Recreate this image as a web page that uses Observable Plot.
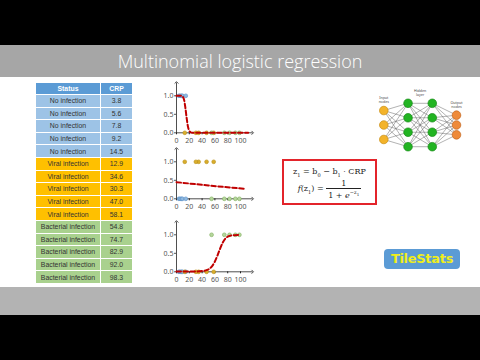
<!DOCTYPE html>
<html><head><meta charset="utf-8">
<script src="https://cdn.jsdelivr.net/npm/d3@7"></script>
<script src="https://cdn.jsdelivr.net/npm/@observablehq/plot@0.6"></script>
<style>
html,body{margin:0;padding:0}
body{width:480px;height:360px;background:#000;position:relative;overflow:hidden;font-family:"Open Sans",sans-serif}
#titlebar{position:absolute;left:0;top:45px;width:480px;height:32px;background:#a6a6a6;color:#fff;font:300 18px "Open Sans",sans-serif;text-align:center;line-height:32px;margin:0}
#content{position:absolute;left:0;top:77px;width:480px;height:210px;background:#fff}
#botbar{position:absolute;left:0;top:287px;width:480px;height:28px;background:#b3b3b3}
table{position:absolute;left:35px;top:82px;border-collapse:collapse;font-family:"Liberation Sans",sans-serif;font-size:6.9px;color:#333}
td,th{border:1px solid #fff;text-align:center;padding:0;height:11.6px;line-height:11px;white-space:nowrap}
th{background:#5b9bd5;color:#fff;font-weight:bold;height:10.7px}
td.c1{width:64px}td.c2{width:31px}
.chart{position:absolute;left:150px}
#formula{position:absolute;left:282px;top:159px;width:95px;height:46px;border:2px solid #e3242b;box-sizing:border-box;font-family:"DejaVu Serif",serif;font-size:8px;color:#222;text-align:center}
.frac{display:inline-block;vertical-align:middle;text-align:center}
.frac span{display:block;padding:0 2px}
.frac .num{border-bottom:0.8px solid #222}
#logo{position:absolute;left:384px;top:249px;width:76px;height:20px;background:#5b9bd5;border-radius:4px;color:#f0ee1a;font:bold 13px "DejaVu Sans",sans-serif;text-align:center;line-height:20px;letter-spacing:-0.3px}
#net{position:absolute;left:372px;top:84px}
</style></head>
<body>
<h1 id="titlebar">Multinomial logistic regression</h1>
<div id="content"></div>
<div id="botbar"></div>
<table id="tbl"></table>
<div class="chart" id="c1" style="top:78px"></div>
<div class="chart" id="c2" style="top:144px"></div>
<div class="chart" id="c3" style="top:217px"></div>
<div id="formula">
 <div style="margin-top:6px">z<sub style="font-size:5px">1</sub> = b<sub style="font-size:5px">0</sub> − b<sub style="font-size:5px">1</sub> · CRP</div>
 <div style="margin-top:1px"><i>f</i>(z<sub style="font-size:5px">1</sub>) = <span class="frac"><span class="num">1</span><span>1 + <i>e</i><sup style="font-size:5px">−z<sub style="font-size:4px">1</sub></sup></span></span></div>
</div>
<div id="net"></div>
<div id="logo">TileStats</div>
<script>
// ---- data ----
const statuses = ["No infection","No infection","No infection","No infection","No infection",
  "Viral infection","Viral infection","Viral infection","Viral infection","Viral infection",
  "Bacterial infection","Bacterial infection","Bacterial infection","Bacterial infection","Bacterial infection"];
const crp = [3.8,5.6,7.8,9.2,14.5,12.9,34.6,30.3,47.0,58.1,54.8,74.7,82.9,92.0,98.3];
const classes = ["No infection","Viral infection","Bacterial infection"];
const rowColors = {"No infection":"#9dc3e6","Viral infection":"#ffc000","Bacterial infection":"#a9d18e"};
const dotFill = {"No infection":"#8fb9e0","Viral infection":"#d9ad2b","Bacterial infection":"#b5d69c"};
const dotStroke = {"No infection":"#5b8fc6","Viral infection":"#b8901a","Bacterial infection":"#7fae5c"};
// fitted curves
const curve1X = [0,8,10,12,14,16,18,20,22,25,40,70,112];
const curve1Y = [1,1,0.97,0.88,0.66,0.38,0.16,0.05,0.015,0,0,0,0];
const curve2X = [0,50,107];
const curve2Y = [0.45,0.36,0.27];
const curve3X = [0,30,40,48,52,56,60,64,68,72,76,80,85,90,100];
const curve3Y = [0.01,0.01,0.02,0.05,0.09,0.16,0.28,0.44,0.62,0.78,0.89,0.95,0.98,0.99,1];
const xTicks = [0,20,40,60,80,100];
const yTicks = [0,0.5,1];
const axisXEnd = 119, axisYEnd = 1.36;
// network
const layerSizes = [3,4,4,3];
const layerSpacing = [1,1,1,0.68];
const layerKinds = ["in","hid","hid","out"];
const netLabels = ["Input\nnodes","Hidden\nlayer","Output\nnodes"];
const netLabelLayer = [0,1.5,3];

// ---- table ----
const tbl = document.getElementById("tbl");
tbl.innerHTML = `<tr><th class="c1">Status</th><th class="c2">CRP</th></tr>` +
  statuses.map((s,i)=>`<tr style="background:${rowColors[s]}"><td class="c1">${s}</td><td class="c2">${crp[i].toFixed(1)}</td></tr>`).join("");

// ---- charts ----
const pts = statuses.map((s,i)=>({s, x:crp[i]}));
const curves = [[curve1X,curve1Y],[curve2X,curve2Y],[curve3X,curve3Y]];
classes.forEach((cls,k)=>{
  const data = pts.map(d=>({...d, y: d.s===cls?1:0}));
  const line = curves[k][0].map((x,i)=>({x, y:curves[k][1][i]}));
  const p = Plot.plot({
    width:110, height:70, marginLeft:26, marginRight:7.2, marginTop:2.5, marginBottom:15.7,
    x:{domain:[0,120], label:null},
    y:{domain:[0,1.4], label:null},
    style:{background:"transparent", overflow:"visible"},
    marks:[
      Plot.axisX({ticks:xTicks, tickSize:2, tickPadding:3, fontSize:7, color:"#555", stroke:"#222", label:null}),
      Plot.axisY({ticks:yTicks, tickFormat:d3.format(".1f"), tickSize:2, tickPadding:1, fontSize:7, color:"#555", label:null}),
      Plot.link([0],{x1:0,x2:axisXEnd,y1:0,y2:0,stroke:"#222",strokeWidth:0.8,markerEnd:"arrow"}),
      Plot.link([0],{x1:0,x2:0,y1:0,y2:axisYEnd,stroke:"#222",strokeWidth:0.8,markerEnd:"arrow"}),
      Plot.dot(data,{x:"x",y:"y",r:1.9,fill:d=>dotFill[d.s],stroke:d=>dotStroke[d.s],strokeWidth:0.6}),
      Plot.line(line,{x:"x",y:"y",stroke:"#c00000",strokeWidth:2,strokeDasharray:"4.5,2.5",curve:"monotone-x"})
    ]
  });
  document.getElementById("c"+(k+1)).append(p);
});

// ---- network ----
const nodes = [];
layerSizes.forEach((n,l)=>{for(let i=0;i<n;i++) nodes.push({l, kind:layerKinds[l], v:(i-(n-1)/2)*layerSpacing[l]});});
const links = [];
nodes.forEach(a=>nodes.forEach(b=>{if(b.l===a.l+1) links.push({x1:a.l,y1:a.v,x2:b.l,y2:b.v});}));
const topOf = l => -(layerSizes[Math.floor(l)]-1)/2*layerSpacing[Math.floor(l)];
const labels = netLabels.map((t,i)=>({t, x:netLabelLayer[i], y:(i===1? -1.5 : topOf(netLabelLayer[i])) - 0.75}));
const nodeFill = {in:"#f3b32a", hid:"#22b422", out:"#ee8a3a"};
const nodeStroke = {in:"#c98d10", hid:"#178a17", out:"#c36620"};
const net = Plot.plot({
  width:100, height:68, margin:0,
  x:{domain:[0,3], range:[11.3,84], axis:null},
  y:{domain:[-2.8,1.9], range:[0,68], axis:null},
  style:{background:"transparent", overflow:"visible"},
  marks:[
    Plot.link(links,{x1:"x1",y1:"y1",x2:"x2",y2:"y2",stroke:"#555",strokeWidth:0.45}),
    Plot.dot(nodes,{x:"l",y:"v",r:4.3,fill:d=>nodeFill[d.kind],stroke:d=>nodeStroke[d.kind],strokeWidth:0.7}),
    Plot.text(labels,{x:"x",y:"y",text:"t",fontSize:3.6,lineHeight:1.1,fill:"#444"})
  ]
});
document.getElementById("net").append(net);
</script>
</body></html>
